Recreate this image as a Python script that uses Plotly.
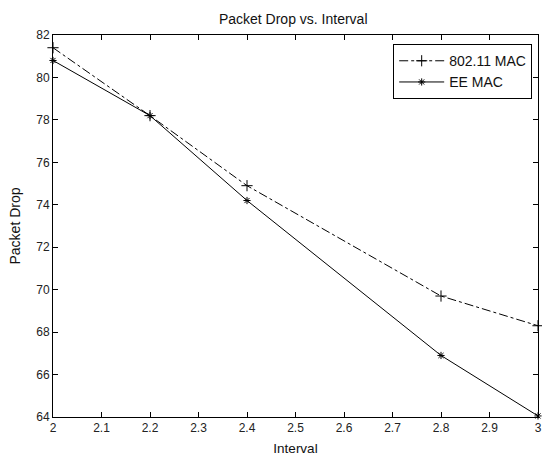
import plotly.graph_objects as go

interval = [2.0, 2.2, 2.4, 2.8, 3.0]
mac80211 = [81.4, 78.2, 74.9, 69.7, 68.3]
ee_mac = [80.8, 78.2, 74.2, 66.9, 64.05]

x_ticks = [2, 2.1, 2.2, 2.3, 2.4, 2.5, 2.6, 2.7, 2.8, 2.9, 3]
x_tick_text = ["2", "2.1", "2.2", "2.3", "2.4", "2.5", "2.6", "2.7", "2.8", "2.9", "3"]
y_ticks = [64, 66, 68, 70, 72, 74, 76, 78, 80, 82]

font = "Liberation Sans, Arial, sans-serif"

fig = go.Figure()
fig.add_trace(go.Scatter(
    x=interval, y=mac80211, name="802.11 MAC", mode="lines+markers",
    line=dict(color="black", width=1, dash="dashdot"),
    marker=dict(symbol="cross-thin-open", size=8, line=dict(color="black", width=1), color="black"),
    cliponaxis=False,
))
fig.add_trace(go.Scatter(
    x=interval, y=ee_mac, name="EE MAC", mode="lines+markers",
    line=dict(color="black", width=1),
    marker=dict(symbol="asterisk-open", size=6, line=dict(color="black", width=1), color="black"),
    cliponaxis=False,
))

axis_common = dict(
    showgrid=False, zeroline=False, showline=True, linecolor="black", linewidth=1,
    mirror="ticks", ticks="inside", ticklen=5, tickcolor="black",
    tickfont=dict(family=font, size=12, color="#222"),
)
fig.update_layout(
    width=542, height=456,
    margin=dict(l=53, r=4, t=35, b=39, autoexpand=False),
    paper_bgcolor="white", plot_bgcolor="white",
    title=dict(text="Packet Drop vs. Interval", x=0.541, xanchor="center", y=0.958, yanchor="middle",
               font=dict(family=font, size=14, color="#111")),
    font=dict(family=font, size=12, color="black"),
    xaxis=dict(range=[2, 3], tickvals=x_ticks, ticktext=x_tick_text, automargin=False,
               title=dict(text="Interval", standoff=9, font=dict(family=font, size=13.5, color="#111")),
               **axis_common),
    yaxis=dict(range=[64, 82], tickvals=y_ticks, automargin=False,
               title=dict(text="Packet Drop", standoff=12, font=dict(family=font, size=14, color="#111")),
               **axis_common),
    legend=dict(x=0.988, y=0.976, xanchor="right", yanchor="top",
                bgcolor="white", bordercolor="black", borderwidth=1,
                font=dict(family=font, size=14, color="#111"), tracegroupgap=0,
                itemwidth=45),
    showlegend=True,
)
fig.write_html("out.html")
